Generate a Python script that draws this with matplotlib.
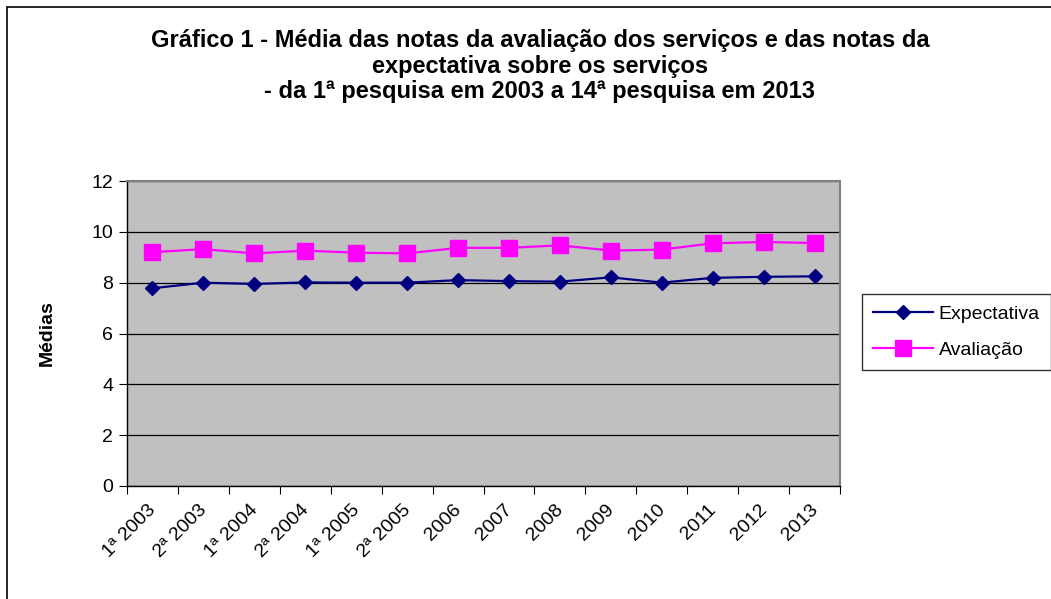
import matplotlib.pyplot as plt
from matplotlib.patches import Rectangle
from matplotlib.transforms import ScaledTranslation

categories = ["1ª 2003", "2ª 2003", "1ª 2004", "2ª 2004", "1ª 2005", "2ª 2005",
              "2006", "2007", "2008", "2009", "2010", "2011", "2012", "2013"]
expectativa = [7.78, 8.00, 7.95, 8.01, 8.00, 8.00, 8.10, 8.06, 8.04, 8.21, 8.00, 8.19, 8.23, 8.25]
avaliacao = [9.20, 9.32, 9.15, 9.26, 9.18, 9.15, 9.37, 9.37, 9.47, 9.26, 9.30, 9.55, 9.60, 9.56]
y_ticks = [0, 2, 4, 6, 8, 10, 12]

plt.rcParams.update({
    "font.family": ["Liberation Sans", "DejaVu Sans"],
    "font.size": 14,
})

fig = plt.figure(figsize=(10.51, 5.99), dpi=100)
ax = fig.add_axes([127 / 1051, 1 - 486 / 599, (840 - 127) / 1051, (486 - 181) / 599])

# outer chart border (runs off the right and bottom of the image)
fig.patches.append(Rectangle((7 / 1051, -0.1), 1.2, 1 - 7 / 599 + 0.1,
                             transform=fig.transFigure, fill=False,
                             edgecolor="black", linewidth=1.2))

ax.set_facecolor("#C0C0C0")
x = list(range(len(categories)))

ax.plot(x, expectativa, color="#000080", linewidth=1.6, marker="D",
        markersize=7, label="Expectativa", zorder=3)
ax.plot(x, avaliacao, color="#FF00FF", linewidth=1.6, marker="s",
        markersize=11, label="Avaliação", zorder=3)

ax.set_ylim(0, 12)
ax.set_yticks(y_ticks)
ax.yaxis.grid(True, color="black", linewidth=0.9)
ax.set_axisbelow(True)

ax.set_xlim(-0.5, len(categories) - 0.5)
ax.set_xticks([i - 0.5 for i in range(len(categories) + 1)])
ax.set_xticklabels([])
ax.set_xticks(x, minor=True)
ax.set_xticklabels(categories, minor=True, rotation=45, ha="right",
                   rotation_mode="anchor", fontsize=14)
ax.tick_params(axis="x", which="minor", length=0, pad=11)
ax.tick_params(axis="x", which="major", length=6, direction="out", color="black")
ax.tick_params(axis="y", length=6, direction="out", color="black", labelsize=14, pad=4)
shift = ScaledTranslation(-5 / 100, 0, fig.dpi_scale_trans)
for lbl in ax.get_xticklabels(minor=True):
    lbl.set_transform(lbl.get_transform() + shift)

for side in ["top", "right"]:
    ax.spines[side].set_color("#808080")
    ax.spines[side].set_linewidth(1.5)
for side in ["left", "bottom"]:
    ax.spines[side].set_color("black")
    ax.spines[side].set_linewidth(1.0)

ax.set_ylabel("Médias", fontweight="bold", fontsize=14, labelpad=26)

fig.text(540 / 1051, 1 - 66 / 599,
         "Gráfico 1 - Média das notas da avaliação dos serviços e das notas da\n"
         "expectativa sobre os serviços\n"
         "- da 1ª pesquisa em 2003 a 14ª pesquisa em 2013",
         ha="center", va="center", fontsize=17, fontweight="bold",
         linespacing=1.12)

leg = ax.legend(loc="center left", bbox_to_anchor=(862 / 1051, 1 - 332 / 599),
                bbox_transform=fig.transFigure, frameon=True, fancybox=False,
                edgecolor="black", fontsize=14, handlelength=3.1,
                handletextpad=0.3, borderaxespad=0, labelspacing=0.95,
                borderpad=0.55)
leg.get_frame().set_linewidth(1.0)

fig.savefig("out.png", dpi=100)
